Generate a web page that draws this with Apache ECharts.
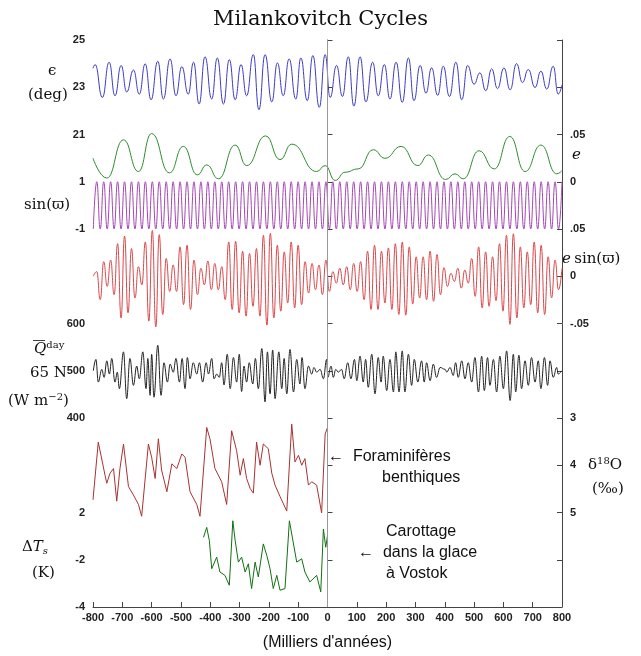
<!DOCTYPE html>
<html>
<head>
<meta charset="utf-8">
<script src="https://cdn.jsdelivr.net/npm/echarts@6/dist/echarts.min.js"></script>
<style>html,body{margin:0;padding:0;background:#fff}#main{width:641px;height:656px}</style>
</head>
<body>
<div id="main"></div>
<script>
// obliquity extrema [kyr, deg]
var obliquity = [[-800,23.8],[-793,23.96],[-768,22.57],[-745,24.06],[-725,22.64],[-704,23.92],[-685,22.80],[-662,23.73],[-642,22.71],
  [-622,23.99],[-602,22.47],[-579,24.10],[-560,22.50],[-537,24.20],[-517,22.64],[-497,23.87],[-475,22.71],[-457,24.06],[-438,22.29],
  [-418,24.29],[-395,22.50],[-376,24.24],[-355,22.29],[-335,24.17],[-315,22.47],[-295,23.96],[-276,22.64],[-253,24.38],[-234,22.05],
  [-213,24.38],[-190,22.38],[-171,24.03],[-151,22.64],[-131,24.20],[-108,22.50],[-91,24.24],[-69,22.43],[-50,24.34],[-28,22.15],
  [-8,24.38],[9,22.57],[31,23.92],[51,22.61],[71,24.29],[90,22.20],[111,24.29],[131,22.38],[154,24.06],[173,22.64],[194,23.96],
  [213,22.50],[234,24.06],[255,22.36],[276,24.24],[295,22.43],[316,23.92],[336,22.75],[355,23.82],[376,22.66],[395,23.89],[416,22.61],
  [438,24.06],[458,22.47],[478,23.92],[500,23.13],[520,23.61],[540,22.85],[560,23.78],[580,22.94],[602,23.82],[623,22.89],[645,24.00],
  [665,23.20],[685,23.75],[708,22.99],[728,23.68],[748,22.92],[770,23.89],[787,22.71],[800,23.1]];
// eccentricity [kyr, e]
var eccentricity = [[-800,0.0248],[-753,0.0039],[-696,0.0443],[-645,0.0108],[-600,0.0510],[-539,0.0094],[-492,0.0374],[-444,0.0073],
  [-412,0.0178],[-372,0.0031],[-315,0.0388],[-276,0.0171],[-211,0.0485],[-162,0.0234],[-122,0.0398],[-37,0.0108],[-8,0.0171],
  [26,0.0014],[60,0.0101],[105,0.0136],[156,0.0339],[196,0.0248],[251,0.0374],[308,0.0171],[344,0.0283],[403,0.0024],[435,0.0084],
  [463,0.0031],[517,0.0328],[569,0.0136],[622,0.0479],[674,0.0108],[728,0.0388],[782,0.0084],[800,0.0118]];
// precession extrema span (kyr): first and last extremum
var precStart = -799, precEnd = 800;
// e sin(varpi) extrema, x 1e-3, alternating from a maximum
var eSinW = [0,4.9,-24.8,15.4,-10.8,17.1,-19.5,34.5,-44,42.6,-38.7,29.3,-23,10.1,-9.1,36.3,-47.5,48.5,-53.7,44,-40.5,18.8,-16.1,11.9,-16.1,
  31.1,-30,32.8,-35.2,17.1,-19.5,8.4,-9.1,16.1,-14.3,13.6,-14.3,10.1,-24.8,36.3,-35.2,37,-38.7,26.5,-42.2,24.1,-31.8,29.3,-42.2,43.3,-51.7,
  45.4,-44,32.8,-37,25.8,-28.3,36.3,-33.5,32.8,-30,15.4,-17.8,13.6,-14.3,11.9,-19.5,17.1,
  -16.1,4.9,-7.3,8.4,-9.1,10.1,-14.3,13.6,-16.1,15.4,-24.8,26.5,-35.2,32.8,-35.2,26.5,-28.3,30,-35.2,34.5,-40.5,36.3,-41.2,31.1,-29.3,
  20.6,-23,20.6,-24.8,26.5,-26.5,23,-19.5,9.1,-10.8,3.1,-5.6,8.4,-12.6,6.6,-7.3,18.8,-21.3,31.1,-33.5,25.8,-31.8,20.6,-25.8,34.5,-37,
  43.3,-51,45,-44,31.1,-33.5,25.8,-30,36.3,-38.7,32.8,-40.5,20.6,-23,17.1,-14.3,8.4];
// sin(varpi) extrema on the same grid
var sinW = eSinW.map(function (v, i) { return i === 0 ? -1 : (i % 2 === 1 ? 1 : -1); });
// insolation 65N [kyr, W m-2]
var insolation = [[-799,500],[-790,524],[-782,476],[-770,503],[-762,486],[-753,521],[-744,493],[-736,526],[-725,476],[-717,497],[-710,462],
  [-696,540],[-685,441],[-674,526],[-662,469],[-651,510],[-642,483],[-630,540],[-619,462],[-613,526],[-605,448],[-600,535],[-592,444],
  [-579,554],[-568,448],[-558,517],[-546,476],[-537,514],[-526,497],[-517,526],[-505,476],[-496,526],[-486,462],[-478,528],[-469,483],
  [-458,517],[-446,493],[-437,517],[-426,476],[-414,517],[-406,493],[-395,526],[-387,483],[-378,493],[-369,486],[-361,517],[-353,470],
  [-342,535],[-332,462],[-321,528],[-310,476],[-301,535],[-293,456],[-285,510],[-276,476],[-267,517],[-255,472],[-246,526],[-236,462],
  [-224,547],[-213,434],[-205,540],[-196,451],[-187,544],[-179,441],[-166,540],[-156,462],[-148,526],[-139,451],[-128,545],[-116,455],
  [-105,524],[-94,472],[-87,528],[-77,462],[-65,510],[-54,493],[-46,507],[-37,497],[-25,503],[-14,483],[-3,524],[1,486],[12,510],[20,486],
  [28,503],[37,497],[48,503],[57,483],[69,517],[80,483],[92,524],[100,479],[111,531],[122,476],[130,524],[139,465],[151,535],[162,451],
  [173,528],[183,476],[190,531],[202,458],[213,524],[225,455],[233,540],[244,455],[255,542],[264,455],[276,535],[287,469],[296,524],
  [308,476],[321,521],[330,476],[338,517],[350,479],[361,514],[372,486],[384,507],[401,503],[407,497],[418,507],[429,490],[437,517],
  [446,486],[458,521],[469,483],[480,517],[492,476],[503,528],[515,455],[526,531],[535,458],[546,528],[554,469],[566,524],[577,455],
  [588,531],[600,462],[611,542],[623,437],[634,535],[642,455],[653,533],[662,462],[674,521],[685,469],[696,528],[708,476],[719,521],
  [728,462],[740,528],[751,469],[759,521],[770,486],[782,507],[787,493],[799,500]];
// benthic foraminifera d18O [kyr, permil]
var benthic = [[-800,4.73],[-782,3.51],[-759,4.21],[-753,4.38],[-742,4.17],[-730,4.07],[-719,4.76],[-708,4.07],[-696,3.55],[-679,4.45],
  [-662,4.63],[-645,4.83],[-634,5.08],[-611,3.55],[-600,3.83],[-588,4.28],[-577,3.44],[-566,4.10],[-548,4.56],[-531,3.97],[-514,4.07],
  [-497,3.76],[-486,3.83],[-469,4.56],[-446,4.83],[-435,5.08],[-412,3.20],[-401,3.44],[-384,4.07],[-361,4.35],[-344,4.83],[-327,3.27],
  [-310,3.69],[-298,4.21],[-287,3.86],[-276,4.28],[-264,4.49],[-253,4.59],[-242,3.51],[-230,4.00],[-219,3.55],[-202,3.65],[-190,4.17],
  [-179,4.42],[-162,4.66],[-139,4.97],[-122,3.13],[-111,3.93],[-99,3.79],[-88,4.00],[-77,3.86],[-65,4.42],[-54,4.35],[-37,4.42],
  [-20,5.01],[-8,3.34],[0,3.20]];
// Vostok temperature anomaly [kyr, K]
var vostok = [[-423,-1.05],[-412,-0.63],[-403,-1.19],[-395,-2.38],[-378,-1.89],[-367,-2.52],[-350,-2.66],[-335,-3.08],[-323,-0.35],
  [-315,-1.19],[-304,-2.1],[-293,-1.89],[-281,-2.52],[-270,-2.17],[-259,-3.22],[-247,-2.1],[-236,-2.73],[-219,-1.33],[-207,-1.82],
  [-196,-2.38],[-185,-3.22],[-173,-2.66],[-162,-3.29],[-145,-3.22],[-130,-0.35],[-119,-1.12],[-105,-2.1],[-88,-1.96],[-77,-2.52],
  [-60,-2.94],[-37,-2.66],[-23,-3.36],[-14,-0.7],[-6,-1.47],[0,-0.98]];

var leftLabels = ['-4','-2','2','','400','500','600','','-1','1','21','23','25'];
var rightLabels = ['','','5','4','3','','-.05','0','.05','0','.05','',''];

function place(arr, off, base, scale) {
  return arr.map(function (p) { return [p[0], off + (p[1] - base) / scale]; });
}
var precStep = (precEnd - precStart) / (eSinW.length - 1);
var precData = [], sinData = [];
eSinW.forEach(function (v, i) {
  var t = precStart + i * precStep;
  precData.push([t, 7 + v / 1000 / 0.05]);
  sinData.push([t, 8.5 + sinW[i] / 2]);
});

function line(data, color, smooth) {
  return {type: 'line', data: data, showSymbol: false, smooth: smooth, smoothMonotone: 'x',
    lineStyle: {color: color, width: 1}, silent: true, animation: false};
}

var chart = echarts.init(document.getElementById('main'));
var lab = {fontFamily: 'Liberation Sans', fontSize: 11, fontWeight: 'bold', color: '#222'};
var serif = {fontFamily: 'DejaVu Serif', fontSize: 15, fill: '#111'};
chart.setOption({
  animation: false,
  title: {text: 'Milankovitch Cycles', left: 'center', top: 4,
    textStyle: {fontFamily: 'DejaVu Serif', fontWeight: 'normal', fontSize: 21, color: '#111'}},
  grid: {left: 93, right: 79, top: 40, bottom: 44},
  xAxis: {type: 'value', min: -800, max: 800, interval: 100,
    name: "(Milliers d'années)", nameLocation: 'middle', nameGap: 28,
    nameTextStyle: {fontFamily: 'Liberation Sans', fontSize: 16, color: '#111'},
    axisLine: {onZero: false, lineStyle: {color: '#444'}},
    axisTick: {inside: true, length: 5, lineStyle: {color: '#444'}},
    axisLabel: Object.assign({margin: 5}, lab),
    splitLine: {show: false}},
  yAxis: [
    {type: 'value', min: 0, max: 12, interval: 1,
      axisLine: {show: true, lineStyle: {color: '#444'}},
      axisTick: {inside: true, length: 5, lineStyle: {color: '#444'}},
      axisLabel: Object.assign({formatter: function (v) { return leftLabels[Math.round(v)] || ''; }}, lab),
      splitLine: {show: false}},
    {type: 'value', min: 0, max: 12, interval: 1, position: 'right',
      axisLine: {show: true, lineStyle: {color: '#444'}},
      axisTick: {inside: true, length: 5, lineStyle: {color: '#444'}},
      axisLabel: Object.assign({formatter: function (v) { return rightLabels[Math.round(v)] || ''; }}, lab),
      splitLine: {show: false}}
  ],
  series: [
    Object.assign(line(place(obliquity, 11, 23, 2), '#3b3bc4', 0.5), {
      markLine: {silent: true, symbol: 'none', label: {show: false},
        lineStyle: {color: '#999', type: 'solid', width: 1}, data: [{xAxis: 0}]}}),
    line(place(eccentricity, 9, 0, 0.05), '#2e8b2e', 0.5),
    line(sinData, '#a347b3', 0.5),
    line(precData, '#d9474a', 0.5),
    line(place(insolation, 5, 500, 100), '#222', 0.4),
    line(place(benthic, 4, 3, -1), '#a83232', false),
    line(place(vostok, 2, 0, 2), '#127012', false)
  ],
  graphic: [
    {type: 'text', left: 48, top: 64, style: Object.assign({text: 'ϵ', textAlign: 'center'}, serif)},
    {type: 'text', left: 28, top: 88, style: Object.assign({text: '(deg)'}, serif)},
    {type: 'text', left: 24, top: 198, style: Object.assign({text: 'sin(ϖ)'}, serif)},
    {type: 'text', left: 34, top: 340, style: {rich: {a: {fontFamily: 'DejaVu Serif', fontSize: 15, fontStyle: 'italic'}, s: {fontFamily: 'DejaVu Serif', fontSize: 10, padding: [0, 0, 8, 0]}},
      text: '{a|Q}{s|day}', fill: '#111'}},
    {type: 'rect', shape: {x: 33, y: 340, width: 12, height: 0.8}, style: {fill: '#111'}},
    {type: 'text', left: 30, top: 366, style: Object.assign({text: '65 N'}, serif)},
    {type: 'text', left: 8, top: 392, style: {rich: {a: {fontFamily: 'DejaVu Serif', fontSize: 15}, s: {fontFamily: 'DejaVu Serif', fontSize: 10, padding: [0, 0, 8, 0]}},
      text: '{a|(W m}{s|−2}{a|)}', fill: '#111'}},
    {type: 'text', left: 22, top: 540, style: {rich: {a: {fontFamily: 'DejaVu Serif', fontSize: 15}, i: {fontFamily: 'DejaVu Serif', fontSize: 15, fontStyle: 'italic'}, s: {fontFamily: 'DejaVu Serif', fontSize: 10, fontStyle: 'italic', padding: [8, 0, 0, 0]}},
      text: '{a|Δ}{i|T}{s|s}', fill: '#111'}},
    {type: 'text', left: 32, top: 566, style: Object.assign({text: '(K)'}, serif)},
    {type: 'text', left: 572, top: 148, style: Object.assign({text: 'e', fontStyle: 'italic'}, serif)},
    {type: 'text', left: 562, top: 252, style: {rich: {i: {fontFamily: 'DejaVu Serif', fontSize: 15, fontStyle: 'italic'}, a: {fontFamily: 'DejaVu Serif', fontSize: 15}},
      text: '{i|e} {a|sin(ϖ)}', fill: '#111'}},
    {type: 'text', left: 588, top: 456, style: {rich: {a: {fontFamily: 'DejaVu Serif', fontSize: 15}, s: {fontFamily: 'DejaVu Serif', fontSize: 10, padding: [0, 0, 8, 0]}},
      text: '{a|δ}{s|18}{a|O}', fill: '#111'}},
    {type: 'text', left: 592, top: 482, style: Object.assign({text: '(‰)'}, serif)},
    {type: 'text', left: 328, top: 449, style: {text: '←  Foraminifères', fontFamily: 'Liberation Sans', fontSize: 16, fill: '#111'}},
    {type: 'text', left: 382, top: 470, style: {text: 'benthiques', fontFamily: 'Liberation Sans', fontSize: 16, fill: '#111'}},
    {type: 'text', left: 386, top: 524, style: {text: 'Carottage', fontFamily: 'Liberation Sans', fontSize: 16, fill: '#111'}},
    {type: 'text', left: 358, top: 545, style: {text: '←  dans la glace', fontFamily: 'Liberation Sans', fontSize: 16, fill: '#111'}},
    {type: 'text', left: 386, top: 566, style: {text: 'à Vostok', fontFamily: 'Liberation Sans', fontSize: 16, fill: '#111'}}
  ]
});
</script>
</body>
</html>
